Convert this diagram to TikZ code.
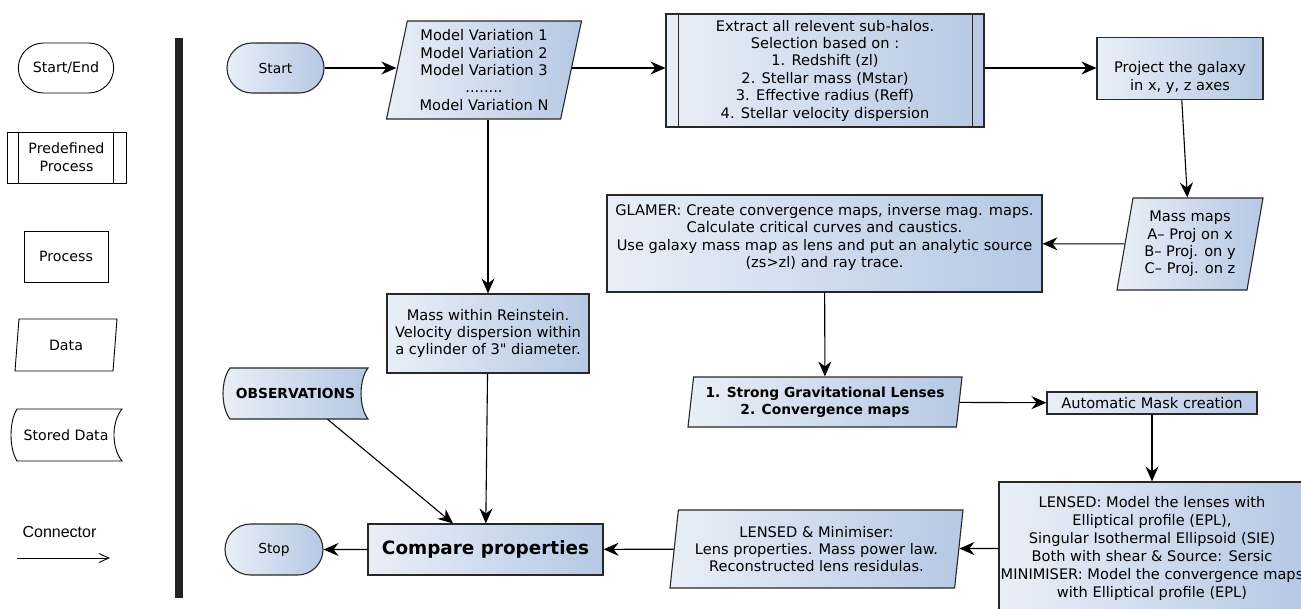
\documentclass[tikz,border=0pt]{standalone}
\usepackage{fontspec}
\setmainfont{DejaVu Sans}
\newfontfamily\qfont{DejaVu Sans}[Ligatures=TeXOff]
\newfontfamily\legfont{Liberation Sans}
\usetikzlibrary{shapes.geometric,shapes.misc,arrows.meta}
\definecolor{gl}{RGB}{233,239,247}
\definecolor{gr}{RGB}{182,200,228}
\definecolor{linec}{RGB}{40,40,40}
\definecolor{barc}{RGB}{34,34,34}
\newcommand\mf{\fontsize{14.6}{17.4}\selectfont}
\newcommand\lf{\fontsize{14.2}{18}\selectfont}
\tikzset{
  flow/.style={draw=linec, line width=1.1pt, left color=gl, right color=gr, inner sep=2pt, align=center, font=\mf},
  procbox/.style={flow, rectangle},
  databox/.style={flow, trapezium, trapezium stretches body=true, inner xsep=0pt},
  termbox/.style={flow, rounded rectangle, font=\fontsize{13.8}{16}\selectfont},
  leg/.style={draw=black, line width=0.9pt, fill=white, align=center, font=\lf},
  conn/.style={-{Stealth[length=15pt,width=13pt,inset=5pt]}, line width=1.1pt, draw=black},
}
\begin{document}
\begin{tikzpicture}[x=1pt,y=-1pt]
\useasboundingbox (0,0) rectangle (1301,608);
\fill[white] (0,0) rectangle (1301,608);
\clip (0,0) rectangle (1301,608);

% ---------- legend ----------
\node[leg, rounded rectangle, minimum width=102, minimum height=50] (lse) at (66,68) {Start/End};
\node[leg, rectangle, minimum width=119, minimum height=51] (lpp) at (66.5,157.5) {Predefined\\Process};
\draw[black, line width=0.9pt] ([xshift=12pt]lpp.north west) -- ([xshift=12pt]lpp.south west);
\draw[black, line width=0.9pt] ([xshift=-13pt]lpp.north east) -- ([xshift=-13pt]lpp.south east);
\node[leg, rectangle, minimum width=84, minimum height=51] (lpr) at (66,256.5) {Process};
\node[leg, trapezium, trapezium left angle=77, trapezium right angle=103, trapezium stretches body=true, inner xsep=0pt, minimum width=102, minimum height=52] (lda) at (66,345) {Data};
\draw[black, line width=0.9pt, fill=white] (17,409) -- (122,409) .. controls (111.3,422) and (111.3,448) .. (122,461) -- (17,461) .. controls (9,448) and (9,422) .. (17,409) -- cycle;
\node[font=\lf, minimum width=105, minimum height=52] (lsd) at (66,435) {Stored Data};
\node[font=\legfont\fontsize{16}{18}\selectfont] (lcon) at (59.5,532) {Connector};
\coordinate (la) at (17,558);
\coordinate (lb) at (110,558);
\draw[line width=0.7pt, -{Straight Barb[length=10pt,width=9pt,line width=0.9pt]}] (la) -- (lb);

% separator bar
\fill[barc] (175,38) rectangle (183,598);

% ---------- main flow ----------
\node[termbox, minimum width=101, minimum height=50] (start) at (275.5,68) {Start};
\node[databox, trapezium left angle=76.2, trapezium right angle=103.8, minimum width=195, minimum height=98] (mv) at (484,70)
  {Model Variation 1\\Model Variation 2\\Model Variation 3\\........\\Model Variation N};
\node[procbox, minimum width=318, minimum height=113] (ext) at (825,70.5)
  {Extract all relevent sub-halos.\\Selection based on :\\1. Redshift (zl)\\2. Stellar mass (Mstar)\\3. Effective radius (Reff)\\4. Stellar velocity dispersion};
\draw[linec, line width=1.1pt] ([xshift=13pt]ext.north west) -- ([xshift=13pt]ext.south west);
\draw[linec, line width=1.1pt] ([xshift=-12pt]ext.north east) -- ([xshift=-12pt]ext.south east);
\node[procbox, minimum width=166, minimum height=62,
  label={[font=\mf, align=center, yshift=-9pt]center:{Project the galaxy\\in x, y, z axes}}] (proj) at (1180,68.5) {};
\node[databox, trapezium left angle=77.1, trapezium right angle=102.9, minimum width=146, minimum height=92] (mm) at (1190,244)
  {Mass maps\\A– Proj on x\\B– Proj. on y\\C– Proj. on z};
\node[procbox, minimum width=435, minimum height=97,
  label={[font=\mf, align=center, yshift=6pt]center:{GLAMER: Create convergence maps, inverse mag. maps.\\Calculate critical curves and caustics.\\Use galaxy mass map as lens and put an analytic source\\(zs>zl) and ray trace.}}] (gl) at (824.5,243.5) {};
\node[databox, font=\fontsize{13.8}{17.4}\selectfont\bfseries, trapezium left angle=80.9, trapezium right angle=99.1, minimum width=274, minimum height=50] (sgl) at (825,402)
  {1. Strong Gravitational Lenses\\2. Convergence maps};
\node[procbox, inner sep=1pt, minimum width=210, minimum height=22] (mask) at (1152,403) {Automatic Mask creation};
\node[procbox, font=\fontsize{14.6}{18}\selectfont, inner xsep=0pt, minimum width=306, minimum height=132] (lensed) at (1152,548)
  {LENSED: Model the lenses with\\Elliptical profile (EPL),\\Singular Isothermal Ellipsoid (SIE)\\Both with shear \& Source: Sersic\\MINIMISER: Model the convergence maps\\with Elliptical profile (EPL)};
\node[databox, trapezium left angle=80.5, trapezium right angle=99.5, minimum width=293, minimum height=78] (lmin) at (816.5,549)
  {LENSED \& Minimiser:\\Lens properties. Mass power law.\\Reconstructed lens residulas.};
\node[procbox, font=\fontsize{18.4}{20}\selectfont\bfseries, minimum width=235, minimum height=51] (cmp) at (485.5,549.5) {Compare properties};
\node[termbox, minimum width=102, minimum height=51] (stop) at (274,549.5) {Stop};
\node[procbox, minimum width=202, minimum height=79] (mass) at (488,333.5)
  {Mass within Reinstein.\\Velocity dispersion within\\a cylinder of 3{\qfont"} diameter.};
\path[draw=linec, line width=1.1pt, left color=gl, right color=gr] (230,368) -- (368,368) .. controls (358.7,380) and (358.7,407) .. (368,419) -- (230,419) .. controls (220.7,407) and (220.7,380) .. (230,368) -- cycle;
\node[font=\fontsize{13.8}{15}\selectfont\bfseries, minimum width=138, minimum height=51] (obs) at (295.5,393.5) {OBSERVATIONS};

% ---------- connectors ----------
\draw[conn] (start.east) -- (start.east -| mv.west);
\draw[conn] (start.east -| mv.east) -- (start.east -| ext.west);
\draw[conn] (start.east -| ext.east) -- (start.east -| proj.west);
\draw[conn] (proj) -- (mm);
\draw[conn] (mm) -- (gl);
\draw[conn] (gl) -- (sgl);
\draw[conn] (sgl) -- (mask);
\draw[conn] (mask) -- (lensed);
\draw[conn] (lensed) -- (lmin);
\draw[conn] (lmin) -- (cmp);
\draw[conn] (cmp) -- (stop);
\draw[conn] (mv.south -| mass.north) -- (mass.north);
\draw[conn] (mass) -- (cmp);
\draw[conn] ([xshift=32pt]obs.south) -- ([xshift=-32.5pt]cmp.north);
\end{tikzpicture}
\end{document}
